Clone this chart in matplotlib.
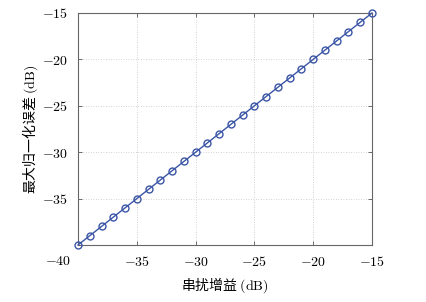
import numpy as np
import matplotlib
matplotlib.use('Agg')
import matplotlib.pyplot as plt

# data: crosstalk gain vs max normalised error
crosstalk_db = [-40, -39, -38, -37, -36, -35, -34, -33, -32, -31, -30, -29, -28,
                -27, -26, -25, -24, -23, -22, -21, -20, -19, -18, -17, -16, -15]
max_error_db = [-40, -39, -38, -37, -36, -35, -34, -33, -32, -31, -30, -29, -28,
                -27, -26, -25, -24, -23, -22, -21, -20, -19, -18, -17, -16, -15]
x_ticks = [-40, -35, -30, -25, -20, -15]
y_ticks = [-40, -35, -30, -25, -20, -15]

plt.rcParams['mathtext.fontset'] = 'cm'
plt.rcParams['font.family'] = ['Noto Sans CJK SC', 'DejaVu Sans']

fig = plt.figure(figsize=(4.27, 3.02), dpi=100)
ax = fig.add_axes([78 / 427, 57 / 302, 294 / 427, 232 / 302])

line_col = '#3b55a6'
ax.plot(crosstalk_db, max_error_db, color=line_col, lw=1.0, marker='o',
        ms=5, mfc='none', mec=line_col, mew=1.0, clip_on=False, zorder=3)

ax.set_xlim(-40, -15)
ax.set_ylim(-40, -15)
ax.set_xticks(x_ticks)
ax.set_yticks(y_ticks)

def tick_txt(v):
    return r'$%d$' % v

ax.set_xticklabels([tick_txt(v) if v != -40 else '' for v in x_ticks], fontsize=10)
ax.set_yticklabels([tick_txt(v) if v != -40 else '' for v in y_ticks], fontsize=10)
# the shared -40 corner label sits below-left of the corner in the original
ax.annotate(tick_txt(-40), xy=(0, 0), xycoords='axes fraction', xytext=(-14.5, -11.5),
            textcoords='offset points', ha='center', va='center', fontsize=10)

ax.tick_params(direction='in', top=True, right=True, length=3, width=0.6,
               color='#555555')
ax.tick_params(axis='x', pad=7)
ax.tick_params(axis='y', pad=7)
ax.grid(True, linestyle=(0, (1, 2)), color='#c4c4c4', lw=0.6)
for s in ax.spines.values():
    s.set_color('#666666')
    s.set_linewidth(0.8)

ax.set_xlabel(r'串扰增益 $(\mathrm{dB})$', fontsize=10)
ax.set_ylabel(r'最大归一化误差 $(\mathrm{dB})$', fontsize=10)
ax.xaxis.set_label_coords(0.5, -0.132)
ax.yaxis.set_label_coords(-0.128, 0.5)

fig.savefig('out.png', dpi=100)
